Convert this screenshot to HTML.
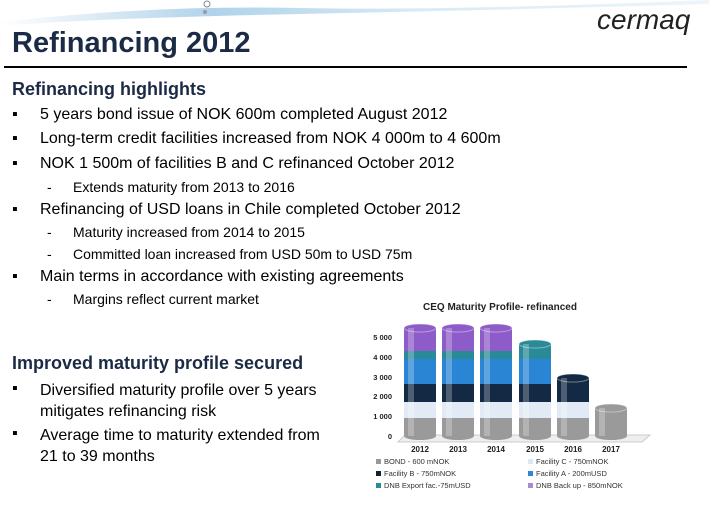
<!DOCTYPE html><html><head><style>
body{margin:0;width:709px;height:515px;background:#fff;font-family:"Liberation Sans",Arial,sans-serif;position:relative;overflow:hidden;color:#000}
.a{position:absolute;white-space:nowrap}
.b{font-size:16px}
.s{font-size:14px}
</style></head><body>
<svg class="a" style="left:0;top:0" width="709" height="40">
<defs><linearGradient id="w" x1="0" x2="1"><stop offset="0" stop-color="#fff"/><stop offset=".3" stop-color="#9cc8e4"/><stop offset=".6" stop-color="#cfe6f4"/><stop offset="1" stop-color="#e8f3fa"/></linearGradient></defs>
<path d="M0 22 Q150 5 300 8 T709 0 L709 4 Q500 10 300 14 T0 26Z" fill="url(#w)" opacity=".8"/>
<circle cx="207" cy="4" r="3" fill="none" stroke="#889"/><circle cx="205" cy="12" r="2" fill="#99a"/>
</svg>
<div class="a" style="left:597px;top:4px;font-size:28px;font-style:italic;color:#222">cermaq</div>
<div class="a" style="left:12px;top:27px;font-size:29px;font-weight:bold;color:#1c2b45">Refinancing 2012</div>
<div class="a" style="left:4px;top:66px;width:683px;height:2px;background:#000"></div>
<div class="a" style="left:12px;top:79px;font-size:18px;font-weight:bold;color:#1c2b45">Refinancing highlights</div>
<div class="a b" style="left:12px;top:106px">▪</div><div class="a b" style="left:40px;top:106px">5 years bond issue of NOK 600m completed August 2012</div>
<div class="a b" style="left:12px;top:130px">▪</div><div class="a b" style="left:40px;top:130px">Long-term credit facilities increased from NOK 4 000m to 4 600m</div>
<div class="a b" style="left:12px;top:155px">▪</div><div class="a b" style="left:40px;top:155px">NOK 1 500m of facilities B and C refinanced October 2012</div>
<div class="a s" style="left:47px;top:179px">-</div><div class="a s" style="left:73px;top:179px">Extends maturity from 2013 to 2016</div>
<div class="a b" style="left:12px;top:201px">▪</div><div class="a b" style="left:40px;top:201px">Refinancing of USD loans in Chile completed October 2012</div>
<div class="a s" style="left:47px;top:224px">-</div><div class="a s" style="left:73px;top:224px">Maturity increased from 2014 to 2015</div>
<div class="a s" style="left:47px;top:246px">-</div><div class="a s" style="left:73px;top:246px">Committed loan increased from USD 50m to USD 75m</div>
<div class="a b" style="left:12px;top:268px">▪</div><div class="a b" style="left:40px;top:268px">Main terms in accordance with existing agreements</div>
<div class="a s" style="left:47px;top:291px">-</div><div class="a s" style="left:73px;top:291px">Margins reflect current market</div>
<div class="a" style="left:12px;top:353px;font-size:18px;font-weight:bold;color:#1c2b45">Improved maturity profile secured</div>
<div class="a b" style="left:12px;top:380px">▪</div><div class="a b" style="left:40px;top:380px;line-height:21px">Diversified maturity profile over 5 years<br>mitigates refinancing risk</div>
<div class="a b" style="left:12px;top:425px">▪</div><div class="a b" style="left:40px;top:425px;line-height:21px">Average time to maturity extended from<br>21 to 39 months</div>
<svg class="a" style="left:350px;top:295px" width="310" height="210" font-family="Liberation Sans,Arial,sans-serif">
<text x="150" y="15" font-size="10" font-weight="bold" text-anchor="middle" fill="#222">CEQ Maturity Profile- refinanced</text>
<g font-size="7.5" font-weight="bold" fill="#222" text-anchor="end">
<text x="42" y="45">5 000</text><text x="42" y="65">4 000</text><text x="42" y="85">3 000</text><text x="42" y="104">2 000</text><text x="42" y="124">1 000</text><text x="42" y="144">0</text></g>
<path d="M55 140 L300 140 L292 147 L48 147Z" fill="#eee" stroke="#ccc"/>
<g font-size="8" font-weight="bold" fill="#222" text-anchor="middle">
<text x="70" y="157">2012</text><text x="108" y="157">2013</text><text x="146" y="157">2014</text><text x="185" y="157">2015</text><text x="223" y="157">2016</text><text x="261" y="157">2017</text></g>
<g font-size="7.5" fill="#333">
<rect x="26" y="164" width="5" height="5" fill="#999"/><text x="34" y="169">BOND - 600 mNOK</text>
<rect x="26" y="176" width="5" height="5" fill="#123"/><text x="34" y="181">Facility B - 750mNOK</text>
<rect x="26" y="188" width="5" height="5" fill="#2a8a98"/><text x="34" y="193">DNB Export fac.-75mUSD</text>
<rect x="178" y="164" width="5" height="5" fill="#dde8f4"/><text x="186" y="169">Facility C - 750mNOK</text>
<rect x="178" y="176" width="5" height="5" fill="#2d88d8"/><text x="186" y="181">Facility A - 200mUSD</text>
<rect x="178" y="188" width="5" height="5" fill="#a98ad8"/><text x="186" y="193">DNB Back up - 850mNOK</text></g>
<g id="b"></g>
</svg>
<script>
var cols=['#9a9a9a','#e2ebf5','#142a44','#2a86d4','#2a8a98','#8e5cc8'];
var bnd=[[0,18,34,52,77,85,108],[0,18,34,52,77,85,108],[0,18,34,52,77,85,108],[0,18,34,52,77,92],[0,18,34,58],[0,28]];
var xs=[70,108,146,185,223,261],base=141,h='',W=32,R=16;
bnd.forEach(function(b,i){var x=xs[i]-R;
for(var k=0;k<b.length-1;k++){h+='<rect x="'+x+'" y="'+(base-b[k+1])+'" width="'+W+'" height="'+(b[k+1]-b[k])+'" fill="'+cols[k]+'"/>';}
var top=b[b.length-1],c=cols[b.length-2];
h+='<ellipse cx="'+xs[i]+'" cy="'+base+'" rx="'+R+'" ry="4" fill="#9a9a9a"/>';
h+='<ellipse cx="'+xs[i]+'" cy="'+(base-top)+'" rx="'+R+'" ry="4" fill="'+c+'" stroke="#fff" stroke-opacity=".4"/>';
h+='<rect x="'+(x+4)+'" y="'+(base-top)+'" width="6" height="'+top+'" fill="#fff" opacity=".25"/>';});
document.getElementById('b').innerHTML=h;
</script>
</body></html>
